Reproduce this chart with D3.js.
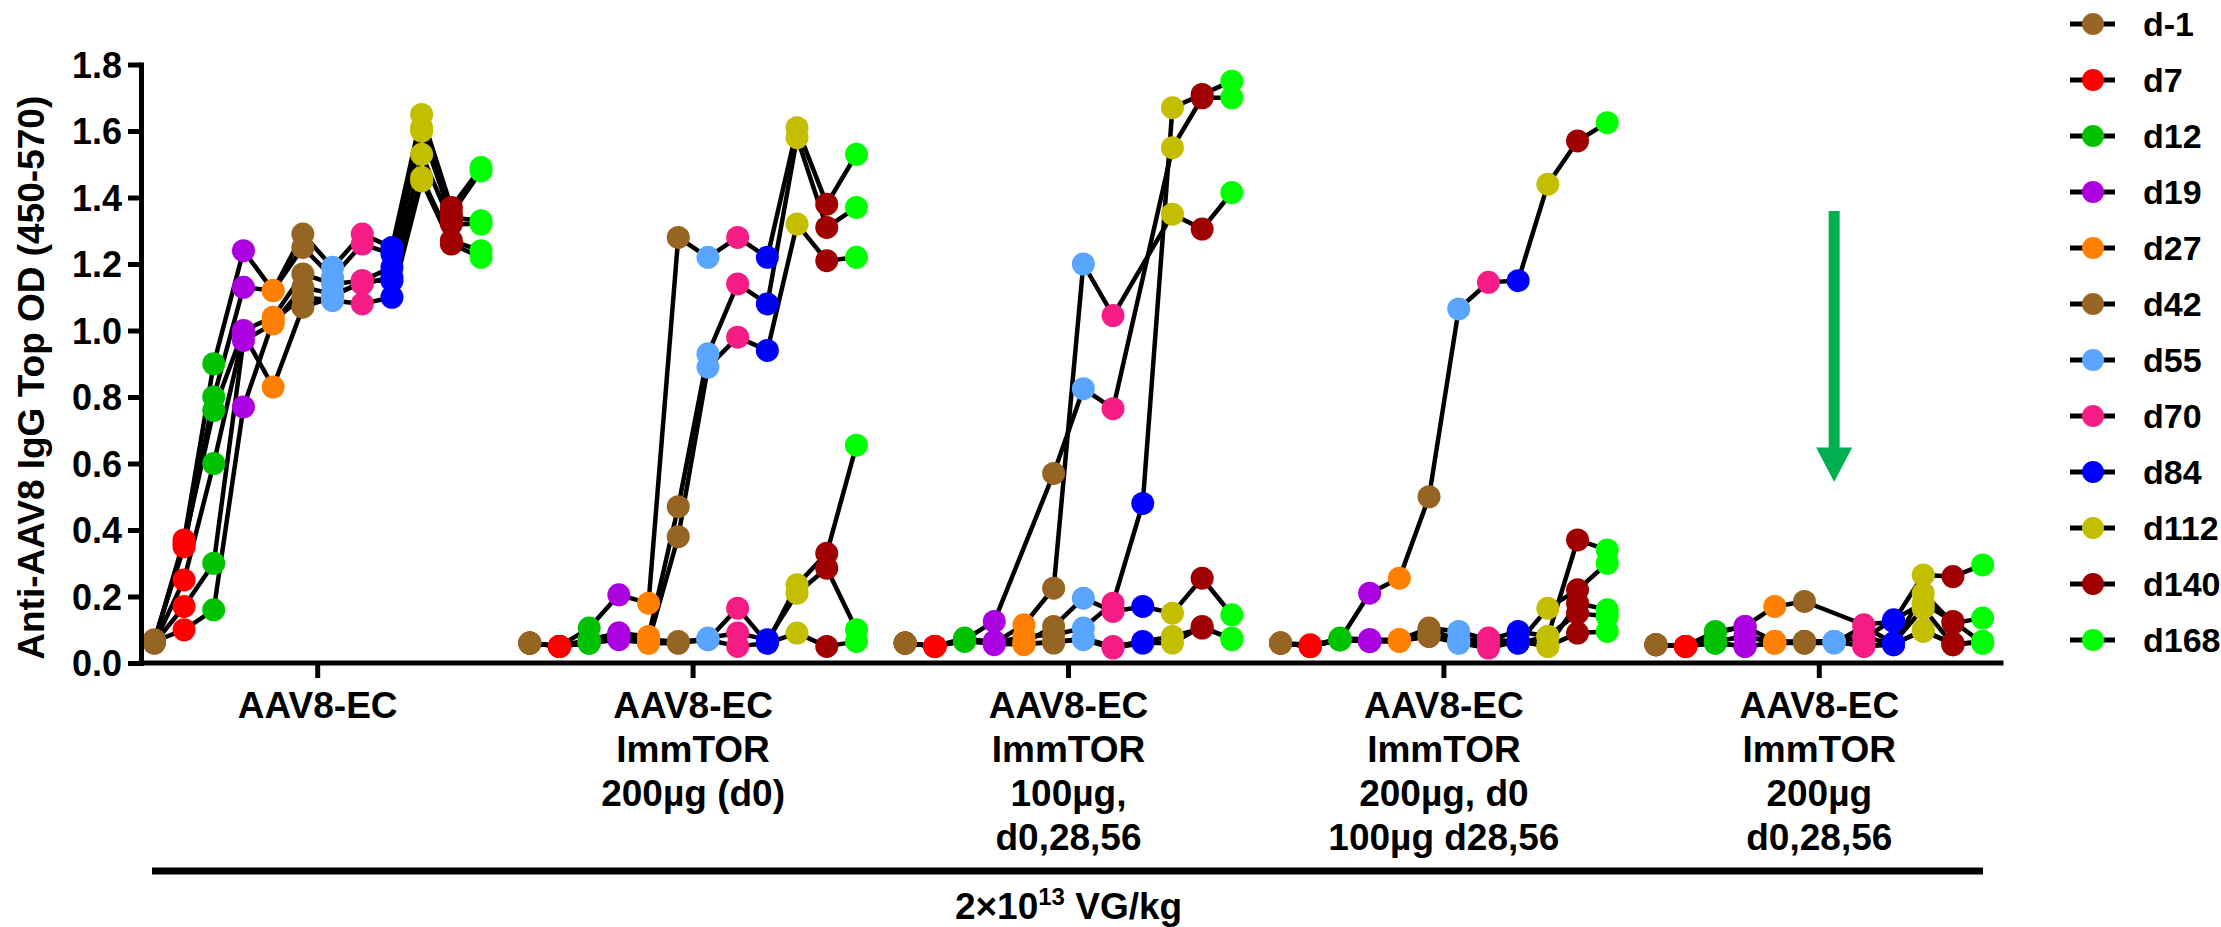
<!DOCTYPE html>
<html>
<head>
<meta charset="utf-8">
<script src="https://cdn.jsdelivr.net/npm/d3@7"></script>
<style>
  body { margin: 0; background: #fff; }
  text { font-family: "Liberation Sans", Arial, sans-serif; font-weight: bold; fill: #000; }
</style>
</head>
<body>
<svg id="chart" width="2221" height="927"></svg>
<script>
// time points and their marker colours
const days = ["d-1", "d7", "d12", "d19", "d27", "d42", "d55", "d70", "d84", "d112", "d140", "d168"];
const dayColors = ["#966423", "#ff0000", "#00c200", "#ab00e0", "#ff8000", "#966423",
                   "#5aa5ff", "#f51c85", "#0000ff", "#c3bf00", "#a00000", "#00ff00"];

// treatment groups (x axis categories, one line per row)
const groupLabels = [
  ["AAV8-EC"],
  ["AAV8-EC", "ImmTOR", "200µg (d0)"],
  ["AAV8-EC", "ImmTOR", "100µg,", "d0,28,56"],
  ["AAV8-EC", "ImmTOR", "200µg, d0", "100µg d28,56"],
  ["AAV8-EC", "ImmTOR", "200µg", "d0,28,56"]
];

// one row per animal, one value per time point (null = not measured)
const aav8ec = [
  [0.065, 0.37, 0.90, 1.24, 1.12, 1.29, 1.19, 1.29, 1.25, 1.65, 1.37, 1.49],
  [0.07, 0.35, 0.80, 1.13, 1.12, 1.25, 1.16, 1.26, 1.23, 1.61, 1.35, 1.48],
  [0.065, 0.36, 0.76, 1.00, 1.04, 1.17, 1.14, 1.15, 1.19, 1.60, 1.34, 1.33],
  [0.06, 0.25, 0.60, 0.99, 0.83, 1.07, 1.10, 1.15, 1.15, 1.53, 1.32, 1.32],
  [0.06, 0.17, 0.30, 0.97, 1.02, 1.13, 1.11, 1.14, 1.16, 1.46, 1.27, 1.24],
  [0.065, 0.10, 0.16, 0.77, 1.03, 1.10, 1.09, 1.08, 1.10, 1.45, 1.26, 1.22]
];
const immtor200d0 = [
  [0.06, 0.05, 0.105, 0.205, 0.18, 1.28, 1.22, 1.28, 1.22, 1.61, 1.38, 1.53],
  [0.06, 0.05, 0.07, 0.09, 0.08, 0.47, 0.93, 1.14, 1.08, 1.58, 1.31, 1.37],
  [0.06, 0.05, 0.06, 0.08, 0.065, 0.38, 0.89, 0.98, 0.94, 1.32, 1.21, 1.22],
  [0.06, 0.05, 0.07, 0.09, 0.07, 0.065, 0.07, 0.165, 0.06, 0.235, 0.33, 0.655],
  [0.06, 0.05, 0.06, 0.075, 0.06, 0.06, 0.075, 0.09, 0.07, 0.21, 0.285, 0.10],
  [0.06, 0.05, 0.06, 0.07, 0.06, 0.06, 0.07, 0.05, 0.06, 0.09, 0.05, 0.065]
];
const immtor100x3 = [
  [0.06, 0.05, 0.07, 0.125, null, 0.57, 0.825, 0.765, null, 1.55, 1.70, 1.70],
  [0.06, 0.05, 0.075, 0.06, 0.115, 0.225, 1.20, 1.045, null, 1.35, 1.305, 1.415],
  [0.06, 0.05, 0.07, 0.06, 0.08, 0.085, 0.105, 0.18, 0.48, 1.67, 1.71, 1.75],
  [0.06, 0.05, 0.07, 0.065, 0.06, 0.11, 0.195, 0.155, 0.17, 0.15, 0.255, 0.145],
  [0.06, 0.05, 0.07, 0.055, 0.06, 0.06, 0.075, 0.05, 0.065, 0.08, 0.105, 0.075],
  [0.06, 0.05, 0.065, 0.06, 0.055, 0.065, 0.07, 0.045, 0.06, 0.06, 0.11, 0.07]
];
const immtor200then100 = [
  [0.06, 0.05, 0.07, 0.21, 0.255, 0.50, 1.065, 1.145, 1.15, 1.44, 1.57, 1.625],
  [0.06, 0.055, 0.07, 0.07, 0.07, 0.105, 0.095, 0.07, 0.095, 0.08, 0.37, 0.34],
  [0.06, 0.05, 0.07, 0.065, 0.065, 0.08, 0.065, 0.075, 0.06, 0.165, 0.22, 0.30],
  [0.06, 0.05, 0.07, 0.065, 0.07, 0.08, 0.06, 0.045, 0.065, 0.05, 0.18, 0.16],
  [0.06, 0.05, 0.075, 0.07, 0.065, 0.10, 0.07, 0.07, 0.06, 0.08, 0.15, 0.14],
  [0.06, 0.05, 0.07, 0.065, 0.07, 0.085, 0.06, 0.06, 0.07, 0.05, 0.09, 0.095]
];
const immtor200x3 = [
  [0.055, 0.05, 0.095, 0.11, 0.17, 0.185, null, 0.115, 0.125, 0.265, 0.26, 0.295],
  [0.055, 0.05, 0.065, 0.08, 0.065, 0.065, 0.065, 0.08, 0.055, 0.21, 0.12, 0.135],
  [0.055, 0.05, 0.06, 0.05, 0.06, 0.065, 0.065, 0.05, 0.06, 0.165, 0.055, 0.065],
  [0.055, 0.05, 0.09, 0.11, 0.065, 0.06, 0.06, 0.11, 0.06, 0.095, 0.06, 0.06],
  [0.055, 0.05, 0.065, 0.08, 0.06, 0.065, 0.065, 0.075, 0.13, 0.18, 0.125, 0.06],
  [0.055, 0.05, 0.06, 0.05, 0.06, 0.06, 0.065, 0.05, 0.055, 0.10, 0.055, 0.065]
];
const groupData = [aav8ec, immtor200d0, immtor100x3, immtor200then100, immtor200x3];

const yTicks = [0, 0.2, 0.4, 0.6, 0.8, 1.0, 1.2, 1.4, 1.6, 1.8];
const yTitle = "Anti-AAV8 IgG Top OD (450-570)";
const doseLabel = "2×10";
const doseExp = "13";
const doseUnit = " VG/kg";

// ---------------------------------------------------------------------------
const svg = d3.select("#chart");
const plotLeft = 141, plotRight = 2001, plotTop = 64.5, plotBottom = 663;

const y = d3.scaleLinear().domain([0, 1.8]).range([plotBottom, plotTop]);
const xGroup = d3.scaleBand().domain(d3.range(groupLabels.length)).range([plotLeft - 11, plotRight + 6]);
const xDay = d3.scalePoint().domain(days).range([0, xGroup.bandwidth()]).padding(0.82);
const color = d3.scaleOrdinal().domain(days).range(dayColors);

const px = (g, day) => xGroup(g) + xDay(day);

const line = d3.line().x(d => d.x).y(d => d.y);

// lines first, dots on top
const series = [];
groupData.forEach((rows, g) => {
  rows.forEach(row => {
    series.push(row.map((v, i) => ({ day: days[i], v, x: px(g, days[i]), y: v == null ? 0 : y(v) }))
                   .filter(d => d.v != null));
  });
});

svg.append("g").selectAll("path").data(series).join("path")
  .attr("d", line)
  .attr("fill", "none")
  .attr("stroke", "#000")
  .attr("stroke-width", 4.5)
  .attr("stroke-linejoin", "round");

svg.append("g").selectAll("circle").data(series.flat()).join("circle")
  .attr("cx", d => d.x)
  .attr("cy", d => d.y)
  .attr("r", 11.5)
  .attr("fill", d => color(d.day));

// y axis
const yAxis = svg.append("g")
  .attr("transform", `translate(${plotLeft},0)`)
  .call(d3.axisLeft(y).tickValues(yTicks).tickFormat(d3.format(".1f")).tickSize(13).tickPadding(6).tickSizeOuter(0));
yAxis.selectAll("text").style("font-size", "36px").attr("dy", "0.36em");
yAxis.selectAll("line").attr("stroke-width", 5);
yAxis.select(".domain").attr("stroke-width", 5).attr("stroke-linecap", "square");

// x axis
const xAxis = svg.append("g")
  .attr("transform", `translate(0,${plotBottom})`)
  .call(d3.axisBottom(xGroup).tickSize(15).tickSizeOuter(0).tickFormat(""));
xAxis.select(".domain").attr("d", `M${plotLeft},0H${plotRight}`).attr("stroke-width", 5).attr("stroke-linecap", "square");
xAxis.selectAll(".tick line").attr("stroke-width", 5);

// category labels
const catLabels = svg.append("g").selectAll("text").data(groupLabels).join("text")
  .attr("x", (d, g) => xGroup(g) + xGroup.bandwidth() / 2)
  .attr("y", 718)
  .attr("text-anchor", "middle")
  .style("font-size", "37px");
catLabels.selectAll("tspan").data(d => d).join("tspan")
  .attr("x", function() { return this.parentNode.getAttribute("x"); })
  .attr("dy", (d, i) => i === 0 ? 0 : 44)
  .text(d => d);

// y title
svg.append("text")
  .attr("transform", `translate(31,${(plotTop + plotBottom) / 2 + 14}) rotate(-90)`)
  .attr("text-anchor", "middle")
  .attr("dominant-baseline", "central")
  .style("font-size", "37px")
  .text(yTitle);

// dose bar + label
svg.append("line")
  .attr("x1", plotLeft + 11).attr("x2", plotRight - 18)
  .attr("y1", 871).attr("y2", 871)
  .attr("stroke", "#000").attr("stroke-width", 7);
const dose = svg.append("text")
  .attr("x", xGroup(2) + xGroup.bandwidth() / 2)
  .attr("y", 919)
  .attr("text-anchor", "middle")
  .style("font-size", "37px");
dose.append("tspan").text(doseLabel);
dose.append("tspan").attr("dy", -14).style("font-size", "24px").text(doseExp);
dose.append("tspan").attr("dy", 14).text(doseUnit);

// green arrow
const ax = xGroup(4) + xDay("d55");
svg.append("path")
  .attr("d", `M${ax - 5.5},211V447.5H${ax - 18}L${ax},482L${ax + 18},447.5H${ax + 5.5}V211Z`)
  .attr("fill", "#00b050");

// legend
const legY = d3.scalePoint().domain(days).range([24, 640]);
const leg = svg.append("g").selectAll("g").data(days).join("g")
  .attr("transform", d => `translate(2093,${legY(d)})`);
leg.append("line").attr("x1", -23).attr("x2", 22).attr("stroke", "#000").attr("stroke-width", 5);
leg.append("circle").attr("r", 11).attr("fill", d => color(d));
leg.append("text").attr("x", 50).attr("dy", "0.36em").style("font-size", "34px").text(d => d);
</script>
</body>
</html>
